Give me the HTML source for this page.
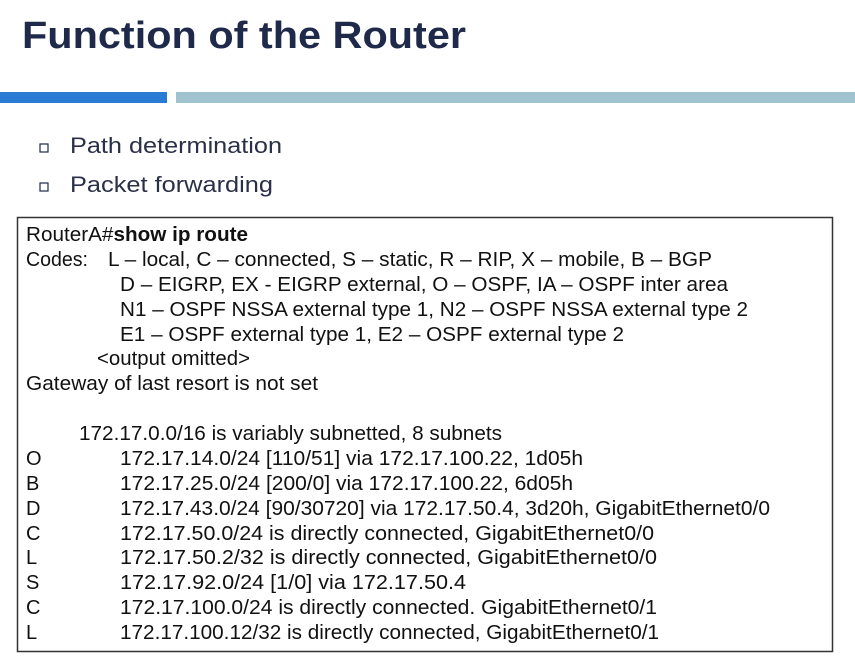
<!DOCTYPE html>
<html><head><style>
body{margin:0;background:#fff;width:855px;height:664px;overflow:hidden}
svg{display:block}
</style></head><body>
<svg width="855" height="664" xmlns="http://www.w3.org/2000/svg" font-family="Liberation Sans, Arial, sans-serif">
<text x="22" y="48" font-size="38" font-weight="bold" fill="#1f2a4a" textLength="444" lengthAdjust="spacingAndGlyphs">Function of the Router</text>
<rect x="0" y="92" width="167" height="11" fill="#2a7bd4"/>
<rect x="176" y="92" width="679" height="11" fill="#9fc4d0"/>
<rect x="40" y="144" width="8" height="8" fill="none" stroke="#1f2a4a" stroke-width="1.2"/>
<rect x="40" y="183" width="8" height="8" fill="none" stroke="#1f2a4a" stroke-width="1.2"/>
<text x="70" y="153" font-size="22" fill="#2a3048" textLength="212" lengthAdjust="spacingAndGlyphs">Path determination</text>
<text x="70" y="192" font-size="22" fill="#2a3048" textLength="203" lengthAdjust="spacingAndGlyphs">Packet forwarding</text>
<rect x="17.5" y="217.5" width="815" height="434" fill="none" stroke="#333" stroke-width="1.5"/>
<g font-size="20" fill="#111">
<text x="26" y="241" textLength="222" lengthAdjust="spacingAndGlyphs">RouterA#<tspan font-weight="bold">show ip route</tspan></text>
<text x="26" y="266" textLength="62" lengthAdjust="spacingAndGlyphs">Codes:</text>
<text x="108" y="266" textLength="604" lengthAdjust="spacingAndGlyphs">L – local, C – connected, S – static, R – RIP, X – mobile, B – BGP</text>
<text x="120" y="291" textLength="608" lengthAdjust="spacingAndGlyphs">D – EIGRP, EX - EIGRP external, O – OSPF, IA – OSPF inter area</text>
<text x="120" y="316" textLength="628" lengthAdjust="spacingAndGlyphs">N1 – OSPF NSSA external type 1, N2 – OSPF NSSA external type 2</text>
<text x="120" y="341" textLength="504" lengthAdjust="spacingAndGlyphs">E1 – OSPF external type 1, E2 – OSPF external type 2</text>
<text x="97" y="365" textLength="153" lengthAdjust="spacingAndGlyphs">&lt;output omitted&gt;</text>
<text x="26" y="390" textLength="292" lengthAdjust="spacingAndGlyphs">Gateway of last resort is not set</text>
<text x="79" y="440" textLength="423" lengthAdjust="spacingAndGlyphs">172.17.0.0/16 is variably subnetted, 8 subnets</text>
<text x="26" y="465">O</text><text x="120" y="465" textLength="463" lengthAdjust="spacingAndGlyphs">172.17.14.0/24  [110/51] via 172.17.100.22, 1d05h</text>
<text x="26" y="490">B</text><text x="120" y="490" textLength="453" lengthAdjust="spacingAndGlyphs">172.17.25.0/24  [200/0] via 172.17.100.22, 6d05h</text>
<text x="26" y="515">D</text><text x="120" y="515" textLength="650" lengthAdjust="spacingAndGlyphs">172.17.43.0/24  [90/30720] via 172.17.50.4, 3d20h, GigabitEthernet0/0</text>
<text x="26" y="540">C</text><text x="120" y="540" textLength="534" lengthAdjust="spacingAndGlyphs">172.17.50.0/24 is directly connected, GigabitEthernet0/0</text>
<text x="26" y="564">L</text><text x="120" y="564" textLength="537" lengthAdjust="spacingAndGlyphs">172.17.50.2/32 is directly connected,  GigabitEthernet0/0</text>
<text x="26" y="589">S</text><text x="120" y="589" textLength="346" lengthAdjust="spacingAndGlyphs">172.17.92.0/24  [1/0] via 172.17.50.4</text>
<text x="26" y="614">C</text><text x="120" y="614" textLength="537" lengthAdjust="spacingAndGlyphs">172.17.100.0/24 is directly connected. GigabitEthernet0/1</text>
<text x="26" y="639">L</text><text x="120" y="639" textLength="539" lengthAdjust="spacingAndGlyphs">172.17.100.12/32 is directly connected, GigabitEthernet0/1</text>
</g>
</svg>
</body></html>
